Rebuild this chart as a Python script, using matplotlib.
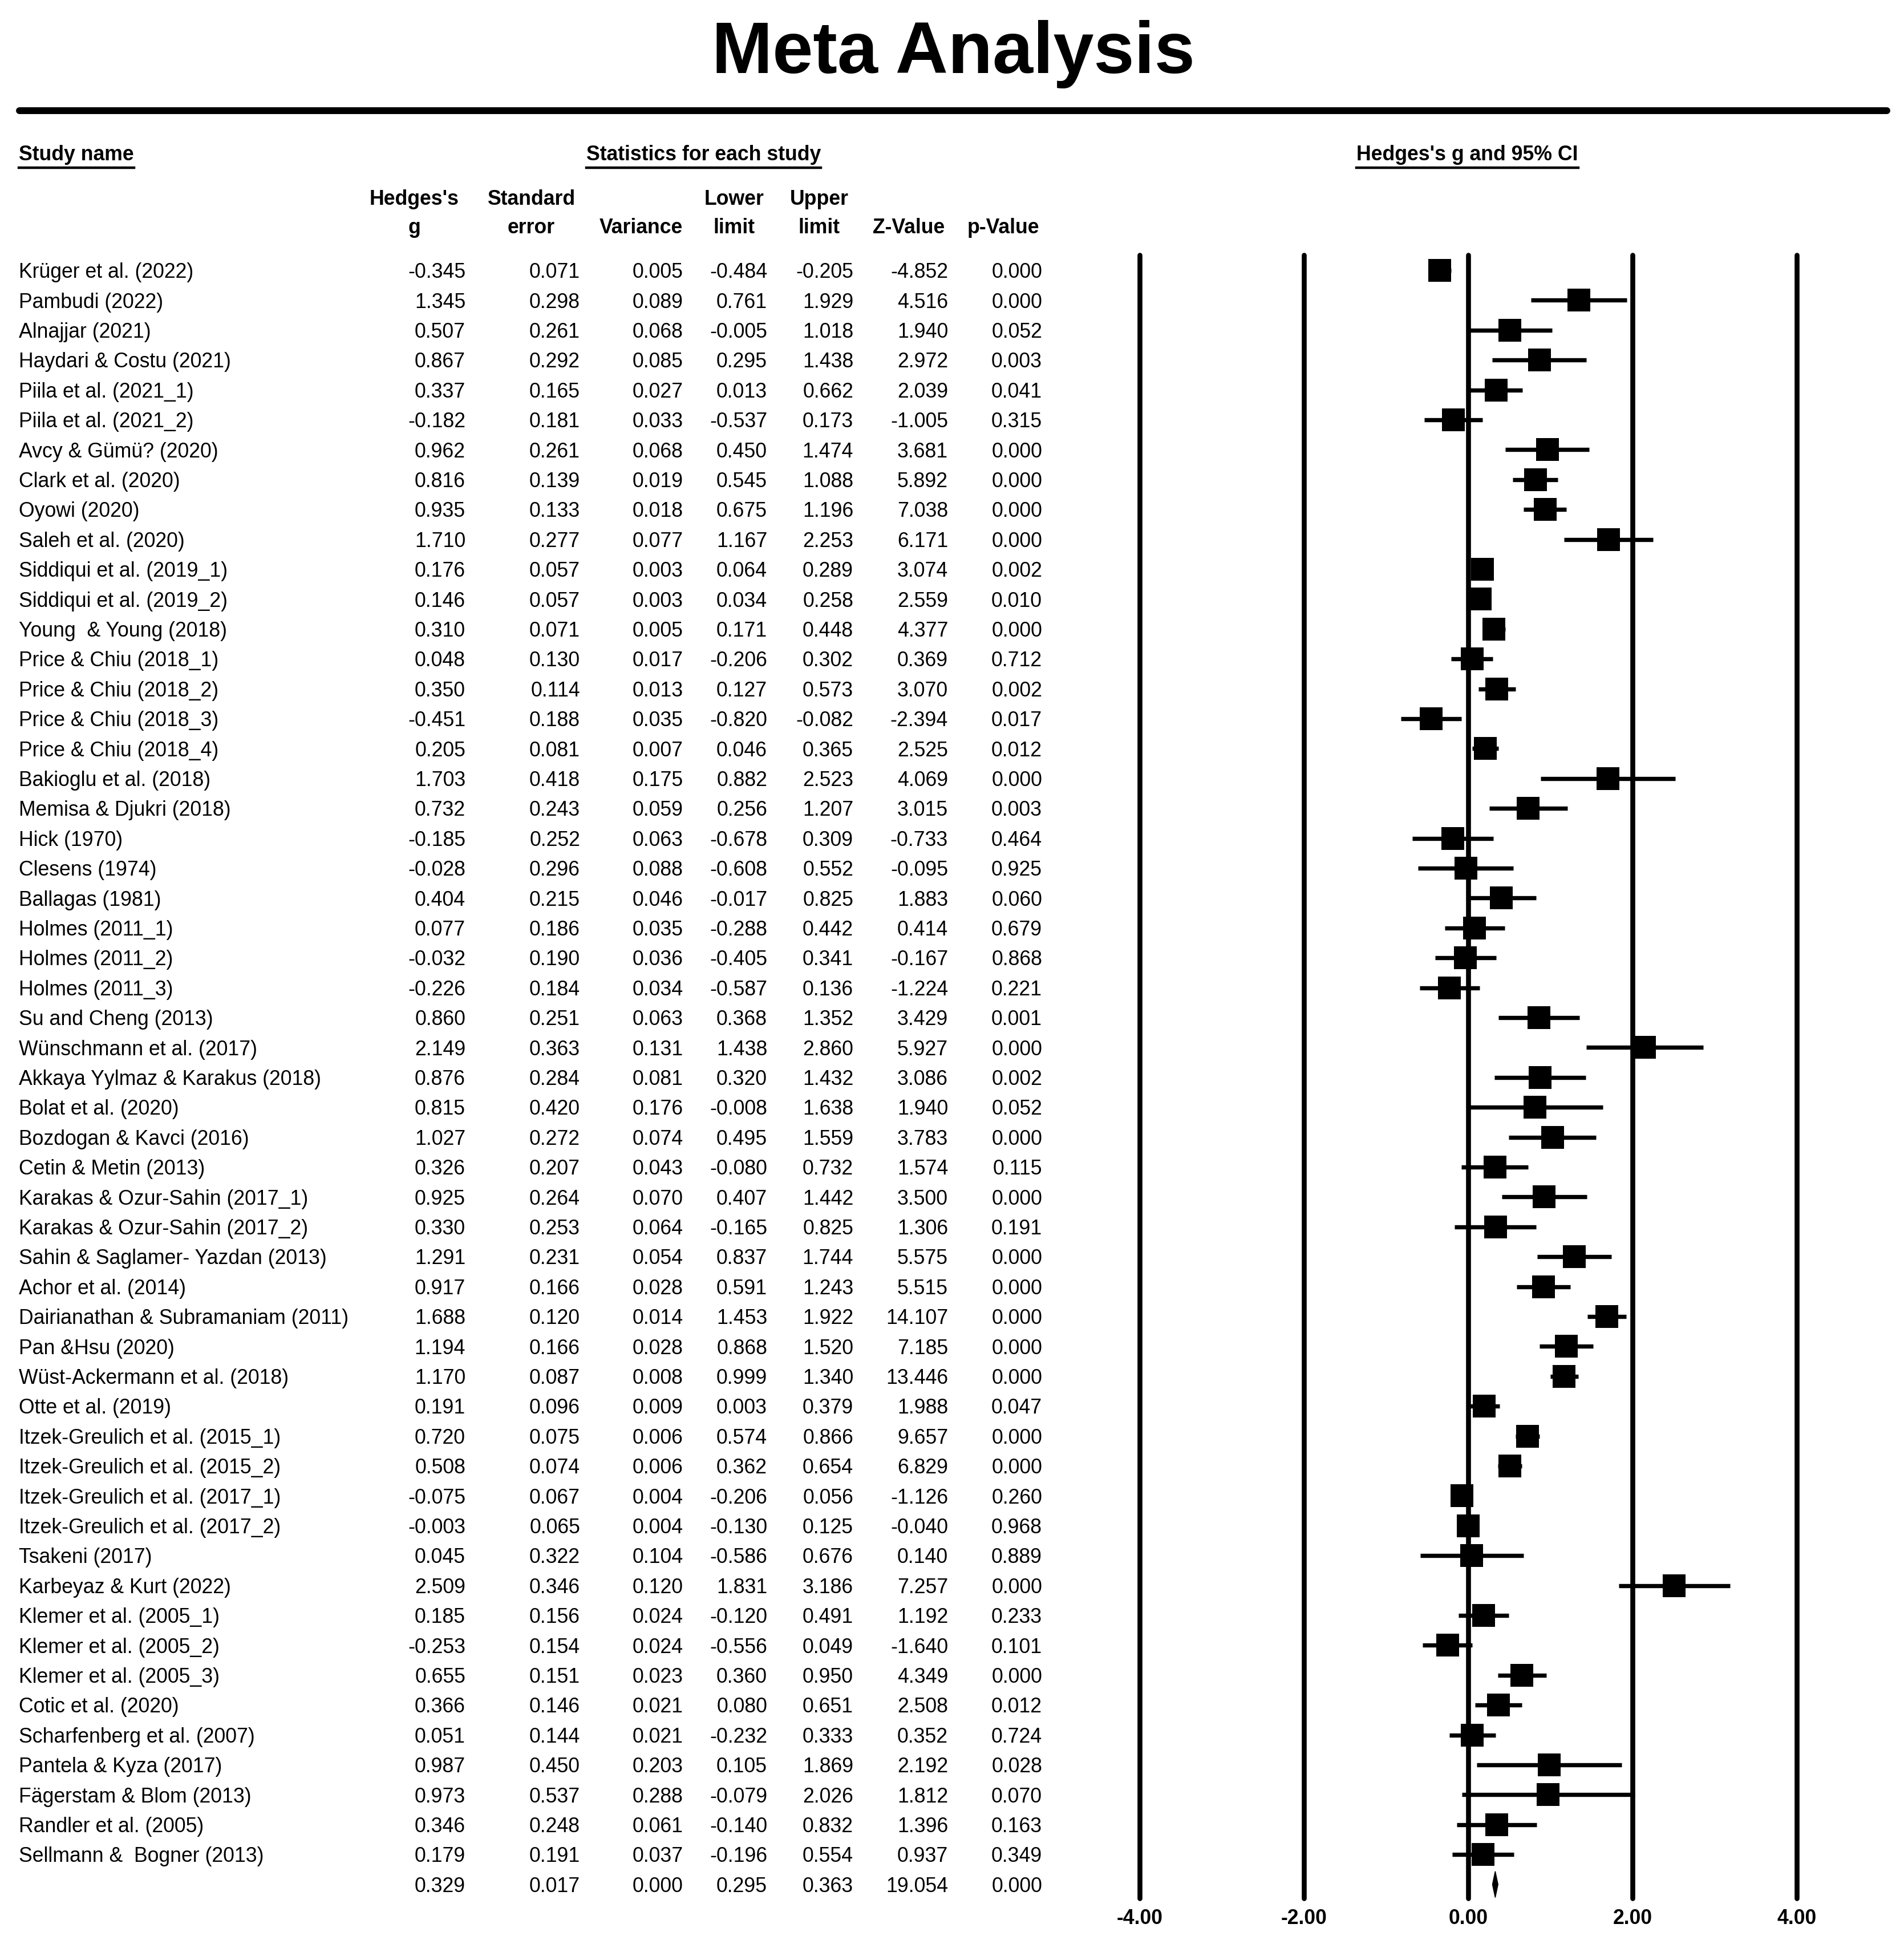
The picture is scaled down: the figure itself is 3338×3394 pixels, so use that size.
import matplotlib
matplotlib.use("Agg")
import matplotlib.pyplot as plt
from matplotlib.lines import Line2D
from matplotlib import transforms

plt.rcParams['font.family'] = ['Liberation Sans', 'DejaVu Sans']

study_names = [
    "Krüger et al. (2022)", "Pambudi (2022)", "Alnajjar (2021)", "Haydari & Costu (2021)",
    "Piila et al. (2021_1)", "Piila et al. (2021_2)", "Avcy & Gümü? (2020)", "Clark et al. (2020)",
    "Oyowi (2020)", "Saleh et al. (2020)", "Siddiqui et al. (2019_1)", "Siddiqui et al. (2019_2)",
    "Young  & Young (2018)", "Price & Chiu (2018_1)", "Price & Chiu (2018_2)", "Price & Chiu (2018_3)",
    "Price & Chiu (2018_4)", "Bakioglu et al. (2018)", "Memisa & Djukri (2018)", "Hick (1970)",
    "Clesens (1974)", "Ballagas (1981)", "Holmes (2011_1)", "Holmes (2011_2)", "Holmes (2011_3)",
    "Su and Cheng (2013)", "Wünschmann et al. (2017)", "Akkaya Yylmaz & Karakus (2018)",
    "Bolat et al. (2020)", "Bozdogan & Kavci (2016)", "Cetin & Metin (2013)",
    "Karakas & Ozur-Sahin (2017_1)", "Karakas & Ozur-Sahin (2017_2)",
    "Sahin & Saglamer- Yazdan (2013)", "Achor et al. (2014)", "Dairianathan & Subramaniam (2011)",
    "Pan &Hsu (2020)", "Wüst-Ackermann et al. (2018)", "Otte et al. (2019)",
    "Itzek-Greulich et al. (2015_1)", "Itzek-Greulich et al. (2015_2)",
    "Itzek-Greulich et al. (2017_1)", "Itzek-Greulich et al. (2017_2)", "Tsakeni (2017)",
    "Karbeyaz & Kurt (2022)", "Klemer et al. (2005_1)", "Klemer et al. (2005_2)",
    "Klemer et al. (2005_3)", "Cotic et al. (2020)", "Scharfenberg et al. (2007)",
    "Pantela & Kyza (2017)", "Fägerstam & Blom (2013)", "Randler et al. (2005)",
    "Sellmann &  Bogner (2013)",
]
hedges_g = [-0.345, 1.345, 0.507, 0.867, 0.337, -0.182, 0.962, 0.816, 0.935, 1.710, 0.176, 0.146,
            0.310, 0.048, 0.350, -0.451, 0.205, 1.703, 0.732, -0.185, -0.028, 0.404, 0.077, -0.032,
            -0.226, 0.860, 2.149, 0.876, 0.815, 1.027, 0.326, 0.925, 0.330, 1.291, 0.917, 1.688,
            1.194, 1.170, 0.191, 0.720, 0.508, -0.075, -0.003, 0.045, 2.509, 0.185, -0.253, 0.655,
            0.366, 0.051, 0.987, 0.973, 0.346, 0.179]
std_err = [0.071, 0.298, 0.261, 0.292, 0.165, 0.181, 0.261, 0.139, 0.133, 0.277, 0.057, 0.057,
           0.071, 0.130, 0.114, 0.188, 0.081, 0.418, 0.243, 0.252, 0.296, 0.215, 0.186, 0.190,
           0.184, 0.251, 0.363, 0.284, 0.420, 0.272, 0.207, 0.264, 0.253, 0.231, 0.166, 0.120,
           0.166, 0.087, 0.096, 0.075, 0.074, 0.067, 0.065, 0.322, 0.346, 0.156, 0.154, 0.151,
           0.146, 0.144, 0.450, 0.537, 0.248, 0.191]
variance = [0.005, 0.089, 0.068, 0.085, 0.027, 0.033, 0.068, 0.019, 0.018, 0.077, 0.003, 0.003,
            0.005, 0.017, 0.013, 0.035, 0.007, 0.175, 0.059, 0.063, 0.088, 0.046, 0.035, 0.036,
            0.034, 0.063, 0.131, 0.081, 0.176, 0.074, 0.043, 0.070, 0.064, 0.054, 0.028, 0.014,
            0.028, 0.008, 0.009, 0.006, 0.006, 0.004, 0.004, 0.104, 0.120, 0.024, 0.024, 0.023,
            0.021, 0.021, 0.203, 0.288, 0.061, 0.037]
lower_limit = [-0.484, 0.761, -0.005, 0.295, 0.013, -0.537, 0.450, 0.545, 0.675, 1.167, 0.064, 0.034,
               0.171, -0.206, 0.127, -0.820, 0.046, 0.882, 0.256, -0.678, -0.608, -0.017, -0.288,
               -0.405, -0.587, 0.368, 1.438, 0.320, -0.008, 0.495, -0.080, 0.407, -0.165, 0.837,
               0.591, 1.453, 0.868, 0.999, 0.003, 0.574, 0.362, -0.206, -0.130, -0.586, 1.831,
               -0.120, -0.556, 0.360, 0.080, -0.232, 0.105, -0.079, -0.140, -0.196]
upper_limit = [-0.205, 1.929, 1.018, 1.438, 0.662, 0.173, 1.474, 1.088, 1.196, 2.253, 0.289, 0.258,
               0.448, 0.302, 0.573, -0.082, 0.365, 2.523, 1.207, 0.309, 0.552, 0.825, 0.442, 0.341,
               0.136, 1.352, 2.860, 1.432, 1.638, 1.559, 0.732, 1.442, 0.825, 1.744, 1.243, 1.922,
               1.520, 1.340, 0.379, 0.866, 0.654, 0.056, 0.125, 0.676, 3.186, 0.491, 0.049, 0.950,
               0.651, 0.333, 1.869, 2.026, 0.832, 0.554]
z_value = [-4.852, 4.516, 1.940, 2.972, 2.039, -1.005, 3.681, 5.892, 7.038, 6.171, 3.074, 2.559,
           4.377, 0.369, 3.070, -2.394, 2.525, 4.069, 3.015, -0.733, -0.095, 1.883, 0.414, -0.167,
           -1.224, 3.429, 5.927, 3.086, 1.940, 3.783, 1.574, 3.500, 1.306, 5.575, 5.515, 14.107,
           7.185, 13.446, 1.988, 9.657, 6.829, -1.126, -0.040, 0.140, 7.257, 1.192, -1.640, 4.349,
           2.508, 0.352, 2.192, 1.812, 1.396, 0.937]
p_value = [0.000, 0.000, 0.052, 0.003, 0.041, 0.315, 0.000, 0.000, 0.000, 0.000, 0.002, 0.010,
           0.000, 0.712, 0.002, 0.017, 0.012, 0.000, 0.003, 0.464, 0.925, 0.060, 0.679, 0.868,
           0.221, 0.001, 0.000, 0.002, 0.052, 0.000, 0.115, 0.000, 0.191, 0.000, 0.000, 0.000,
           0.000, 0.000, 0.047, 0.000, 0.000, 0.260, 0.968, 0.889, 0.000, 0.233, 0.101, 0.000,
           0.012, 0.724, 0.028, 0.070, 0.163, 0.349]

summary_stats = [0.329, 0.017, 0.000, 0.295, 0.363, 19.054, 0.000]  # g, se, var, lower, upper, z, p

col_headers_1 = ["Hedges's", "Standard", "", "Lower", "Upper", "", ""]
col_headers_2 = ["g", "error", "Variance", "limit", "limit", "Z-Value", "p-Value"]
tick_values = [-4, -2, 0, 2, 4]
tick_labels = ["-4.00", "-2.00", "0.00", "2.00", "4.00"]

W, H = 3338, 3394
fig = plt.figure(figsize=(W / 100, H / 100), dpi=100)
fig.patch.set_facecolor("white")

def fx(px):
    return px / W

def fy(py):
    return 1 - py / H

FS = 25.7

# Title
fig.text(fx(1671), fy(128), "Meta Analysis", ha="center", va="baseline",
         fontsize=92, fontweight="bold")
# thick rule
fig.add_artist(Line2D([fx(34), fx(3308)], [fy(194), fy(194)], color="black",
                      linewidth=8.6, solid_capstyle="round"))

# Section headers with underline
renderer = fig.canvas.get_renderer()
for px, txt in [(33, "Study name"), (1028, "Statistics for each study"), (2378, "Hedges's g and 95% CI")]:
    t = fig.text(fx(px), fy(281), txt, ha="left", va="baseline", fontsize=FS, fontweight="bold")
    bb = t.get_window_extent(renderer=renderer)
    fig.add_artist(Line2D([bb.x0 / W, bb.x1 / W], [fy(294), fy(294)], color="black", linewidth=3.2))

# Column headers
col_centers = [726, 931, 1124, 1287, 1436, 1593, 1759]
for cx, h1, h2 in zip(col_centers, col_headers_1, col_headers_2):
    if h1:
        fig.text(fx(cx), fy(359), h1, ha="center", va="baseline", fontsize=FS, fontweight="bold")
    fig.text(fx(cx), fy(409), h2, ha="center", va="baseline", fontsize=FS, fontweight="bold")

# Forest axes
row0 = 474.0
dy = 52.4
ax_top, ax_bot = 430, 3340
ax_left, ax_right = 1900, 3250
x0px, unit = 2574.0, 144.0
ax = fig.add_axes([fx(ax_left), fy(ax_bot), (ax_right - ax_left) / W, (ax_bot - ax_top) / H])
ax.set_xlim((ax_left - x0px) / unit, (ax_right - x0px) / unit)
ax.set_ylim((ax_bot - row0) / dy, (ax_top - row0) / dy)
ax.patch.set_alpha(0)
for s in ax.spines.values():
    s.set_visible(False)
ax.set_yticks([])
ax.set_xticks(tick_values)
ax.set_xticklabels(tick_labels, fontsize=FS, fontweight="bold")
ax.tick_params(axis="x", length=0, pad=4.5)

n = len(study_names)
y_top = (447 - row0) / dy
y_bot = (3328 - row0) / dy
for tv in tick_values:
    ax.plot([tv, tv], [y_top, y_bot], color="black", linewidth=6.2, solid_capstyle="round", zorder=1)

rows = list(range(n))
for i in rows:
    ax.plot([lower_limit[i], upper_limit[i]], [i, i], color="black", linewidth=5.3,
            solid_capstyle="butt", zorder=2)
ax.plot(hedges_g, rows, linestyle="none", marker="s", markersize=29.5, color="black",
        markeredgewidth=0, zorder=3)

# summary diamond
sy = n
hh = 0.44
sg, sl, su = summary_stats[0], summary_stats[3], summary_stats[4]
ax.fill([sl, sg, su, sg], [sy, sy - hh, sy, sy + hh], color="black", zorder=3)

# Table text
tr = transforms.blended_transform_factory(fig.transFigure, ax.transData)
name_x = fx(33)
right_edges = [816, 1017, 1198, 1345, 1496, 1662, 1827]
boff = 0.25
cols = [hedges_g, std_err, variance, lower_limit, upper_limit, z_value, p_value]
for i in rows:
    fig.text(name_x, i + boff, study_names[i], transform=tr, ha="left", va="baseline", fontsize=FS)
    for rx, col in zip(right_edges, cols):
        fig.text(fx(rx), i + boff, f"{col[i]:.3f}", transform=tr, ha="right", va="baseline", fontsize=FS)
for rx, v in zip(right_edges, summary_stats):
    fig.text(fx(rx), sy + boff, f"{v:.3f}", transform=tr, ha="right", va="baseline", fontsize=FS)

fig.savefig("out.png", dpi=100, facecolor="white")
